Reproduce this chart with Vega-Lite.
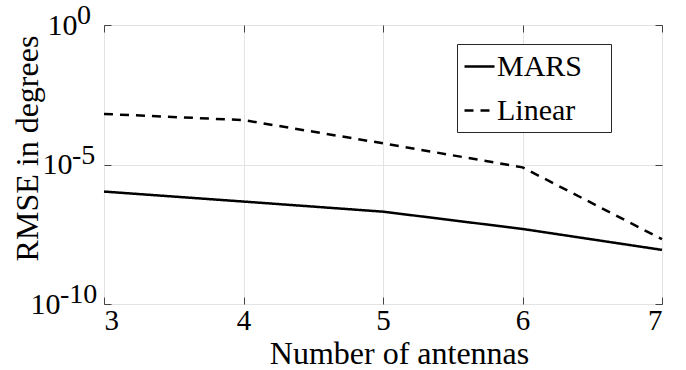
{
  "$schema": "https://vega.github.io/schema/vega-lite/v6.json",
  "width": 558,
  "height": 279,
  "autosize": "none",
  "padding": {"left": 104, "top": 25, "right": 24, "bottom": 66},
  "background": "white",
  "config": {
    "font": "Liberation Serif, Times New Roman, serif",
    "text": {"font": "Liberation Serif, Times New Roman, serif"},
    "view": {"stroke": "#262626", "strokeWidth": 1},
    "axis": {
      "domain": false,
      "gridColor": "#e3e3e3",
      "gridWidth": 1,
      "tickColor": "#444444",
      "tickSize": -7,
      "labelColor": "black",
      "titleColor": "black",
      "labelFont": "Liberation Serif, Times New Roman, serif",
      "titleFont": "Liberation Serif, Times New Roman, serif",
      "titleFontWeight": "normal"
    },
    "legend": {
      "fillColor": "white",
      "strokeColor": "#262626",
      "padding": 6,
      "labelFontSize": 30,
      "labelFont": "Liberation Serif, Times New Roman, serif",
      "labelColor": "black",
      "symbolType": "stroke",
      "symbolSize": 900,
      "symbolStrokeWidth": 2.5,
      "symbolStrokeColor": "black",
      "labelOffset": 1,
      "rowPadding": 12
    }
  },
  "resolve": {"axis": {"x": "independent", "y": "independent"}},
  "layer": [
    {
      "data": {
        "values": [
          {"antennas": 3, "rmse": 1.07e-6, "method": "MARS"},
          {"antennas": 4, "rmse": 4.7e-7, "method": "MARS"},
          {"antennas": 5, "rmse": 2.04e-7, "method": "MARS"},
          {"antennas": 6, "rmse": 4.9e-8, "method": "MARS"},
          {"antennas": 7, "rmse": 8.7e-9, "method": "MARS"},
          {"antennas": 3, "rmse": 6.5e-4, "method": "Linear"},
          {"antennas": 4, "rmse": 3.9e-4, "method": "Linear"},
          {"antennas": 5, "rmse": 5.75e-5, "method": "Linear"},
          {"antennas": 6, "rmse": 7.9e-6, "method": "Linear"},
          {"antennas": 7, "rmse": 2.1e-8, "method": "Linear"}
        ]
      },
      "mark": {"type": "line", "color": "black", "strokeWidth": 2.5},
      "encoding": {
        "x": {
          "field": "antennas",
          "type": "quantitative",
          "scale": {"domain": [3, 7], "nice": false, "zero": false},
          "axis": {
            "values": [3, 4, 5, 6, 7],
            "format": "d",
            "labelFontSize": 29,
            "labelPadding": 9,
            "title": "Number of antennas",
            "titleFontSize": 32,
            "titleX": 295,
            "titleY": 59,
            "titleAlign": "center",
            "titleBaseline": "alphabetic"
          }
        },
        "y": {
          "field": "rmse",
          "type": "quantitative",
          "scale": {"type": "log", "domain": [1e-10, 1], "nice": false},
          "axis": {
            "values": [1e-10, 1e-5, 1],
            "labelExpr": "'10'",
            "labelFontSize": 30,
            "labelAlign": "right",
            "labelBaseline": "middle",
            "labelPadding": {"condition": [{"test": "datum.value < 1e-7", "value": 51}, {"test": "datum.value < 0.1", "value": 39}], "value": 34},
            "title": "RMSE in degrees",
            "titleFontSize": 32,
            "titleAngle": 270,
            "titleX": -77,
            "titleY": 123,
            "titleAlign": "center",
            "titleBaseline": "middle"
          }
        },
        "strokeDash": {
          "field": "method",
          "type": "nominal",
          "scale": {"domain": ["MARS", "Linear"], "range": [[1, 0], [9, 7]]},
          "legend": {
            "title": null,
            "orient": "none",
            "legendX": 353,
            "legendY": 19,
            "labelExpr": "datum.label + '\u00a0\u00a0\u00a0\u200b'"
          }
        }
      }
    },
    {
      "data": {"values": [{"v": 1, "e": "0"}]},
      "mark": {"type": "text", "align": "left", "baseline": "middle", "dx": -27, "dy": -9, "fontSize": 28, "color": "black"},
      "encoding": {
        "x": {
          "datum": 3,
          "type": "quantitative",
          "axis": {"orient": "top", "values": [3, 4, 5, 6, 7], "labels": false, "grid": false, "title": null}
        },
        "y": {
          "field": "v",
          "type": "quantitative",
          "axis": {"orient": "right", "values": [1e-10, 1e-5, 1], "labels": false, "grid": false, "title": null}
        },
        "text": {"field": "e"}
      }
    },
    {
      "data": {"values": [{"v": 1e-5, "e": "-5"}]},
      "mark": {"type": "text", "align": "left", "baseline": "middle", "dx": -32, "dy": -9, "fontSize": 28, "color": "black"},
      "encoding": {
        "x": {"datum": 3, "type": "quantitative", "axis": null},
        "y": {"field": "v", "type": "quantitative", "axis": null},
        "text": {"field": "e"}
      }
    },
    {
      "data": {"values": [{"v": 1e-10, "e": "-10"}]},
      "mark": {"type": "text", "align": "left", "baseline": "middle", "dx": -44, "dy": -9, "fontSize": 28, "color": "black"},
      "encoding": {
        "x": {"datum": 3, "type": "quantitative", "axis": null},
        "y": {"field": "v", "type": "quantitative", "axis": null},
        "text": {"field": "e"}
      }
    }
  ]
}
